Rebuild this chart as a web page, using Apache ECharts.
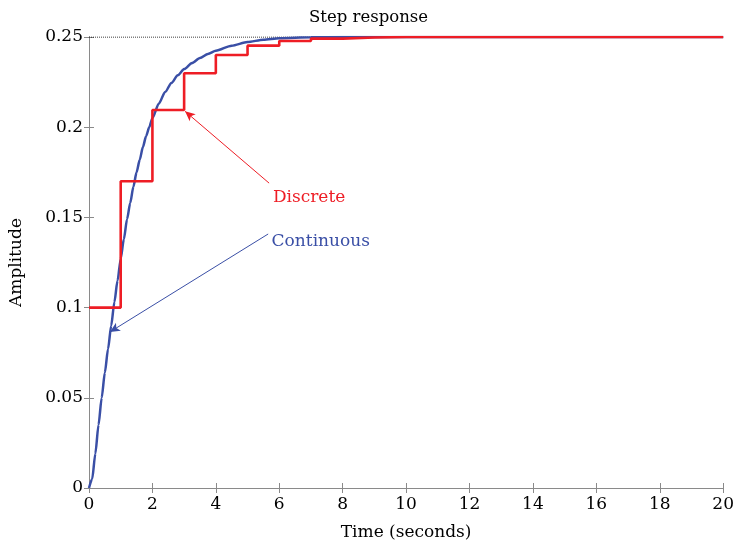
<!DOCTYPE html>
<html>
<head>
<meta charset="utf-8">
<script src="https://cdn.jsdelivr.net/npm/echarts@6/dist/echarts.min.js"></script>
<style>
html,body{margin:0;padding:0;background:#fff;overflow:hidden;}
#chart{width:737px;height:547px;}
</style>
</head>
<body>
<div id="chart"></div>
<script>
// ---- data ----
var xTicks = [0, 2, 4, 6, 8, 10, 12, 14, 16, 18, 20];
var yTicks = [0, 0.05, 0.1, 0.15, 0.2, 0.25];
var contT = [0, 0.1, 0.2, 0.3, 0.4, 0.5, 0.6, 0.7, 0.8, 0.9, 1.0, 1.1, 1.2, 1.3, 1.4, 1.5, 1.6, 1.7, 1.8, 1.9, 2.0, 2.2, 2.4, 2.6, 2.8, 3.0, 3.25, 3.5, 3.75, 4.0, 4.5, 5.0, 5.5, 6.0, 7.0, 8.0, 10, 20];
var contY = [0, 0.005, 0.019, 0.035, 0.050, 0.064, 0.077, 0.090, 0.103, 0.115, 0.127, 0.138, 0.149, 0.158, 0.167, 0.175, 0.182, 0.189, 0.195, 0.200, 0.205, 0.213, 0.2195, 0.2245, 0.2288, 0.2322, 0.2356, 0.2384, 0.2406, 0.2424, 0.2452, 0.2472, 0.2485, 0.2493, 0.2498, 0.25, 0.25, 0.25];
var discT = [0, 1, 2, 3, 4, 5, 6, 7, 8, 9, 10, 11, 12, 13, 14, 15, 16, 17, 18, 19, 20];
var discY = [0.1, 0.17, 0.2095, 0.2299, 0.240, 0.2452, 0.2478, 0.2491, 0.2497, 0.25, 0.25, 0.25, 0.25, 0.25, 0.25, 0.25, 0.25, 0.25, 0.25, 0.25, 0.25];
var finalValue = 0.25;
var discArrow = {from: [5.68, 0.169], to: [3.03, 0.2088], text: 'Discrete', at: [5.72, 0.1612]};
var contArrow = {from: [5.65, 0.1408], to: [0.66, 0.0865], text: 'Continuous', at: [5.68, 0.1368]};

var FONT = 'DejaVu Serif';
var RED = '#ee1d25';
var BLUE = '#3a4fa6';
var AX = '#8a8a8a';
var TXT = '#000';

function pairs(xs, ys) { return xs.map(function (x, i) { return [x, ys[i]]; }); }

var chart = echarts.init(document.getElementById('chart'));
var axisCommon = {
  axisLine: {show: true, lineStyle: {color: AX, width: 1}},
  axisTick: {show: true, inside: true, length: 5, lineStyle: {color: AX}},
  splitLine: {show: false}
};
chart.setOption({
  animation: false,
  backgroundColor: '#fff',
  title: {
    text: 'Step response', left: 'center', top: 4,
    textStyle: {fontFamily: FONT, fontSize: 16.5, fontWeight: 'normal', color: TXT}
  },
  grid: {left: 86, right: 8.5, top: 37, bottom: 59},
  xAxis: [
    Object.assign({
      type: 'value', min: 0, max: 20, interval: 2, position: 'bottom',
      name: 'Time (seconds)', nameLocation: 'middle', nameGap: 36,
      nameTextStyle: {fontFamily: FONT, fontSize: 17, color: TXT},
      axisLabel: {fontFamily: FONT, fontSize: 17, color: TXT, margin: 8}
    }, axisCommon),
    Object.assign({
      type: 'value', min: 0, max: 20, interval: 2, position: 'top',
      axisLabel: {show: false}
    }, axisCommon)
  ],
  yAxis: [
    Object.assign({
      type: 'value', min: 0, max: 0.25, interval: 0.05, position: 'left',
      name: 'Amplitude', nameLocation: 'middle', nameGap: 64, nameRotate: 90,
      nameTextStyle: {fontFamily: FONT, fontSize: 17, color: TXT},
      axisLabel: {fontFamily: FONT, fontSize: 17, color: TXT, margin: 6,
        formatter: function (v) { return String(+v.toFixed(2)); }}
    }, axisCommon),
    Object.assign({
      type: 'value', min: 0, max: 0.25, interval: 0.05, position: 'right',
      axisLabel: {show: false}
    }, axisCommon)
  ],
  series: [
    {
      type: 'line', name: 'ref', data: [[0, finalValue], [20, finalValue]],
      symbol: 'none', silent: true, z: 1,
      lineStyle: {color: '#000', width: 1, type: [1, 1]}
    },
    {
      type: 'line', name: 'Continuous', data: pairs(contT, contY),
      smooth: 0.25, smoothMonotone: 'x', symbol: 'none', z: 3,
      lineStyle: {color: BLUE, width: 2.5},
      markLine: {
        silent: true, symbol: ['none', 'arrow'], symbolSize: [7, 10],
        lineStyle: {color: BLUE, width: 1, type: 'solid'}, label: {show: false},
        data: [[{coord: contArrow.from}, {coord: contArrow.to}]]
      },
      markPoint: {
        silent: true, symbol: 'circle', symbolSize: 1, itemStyle: {color: 'rgba(0,0,0,0)'},
        label: {show: true, position: 'right', distance: 2, formatter: contArrow.text,
          fontFamily: FONT, fontSize: 17, color: BLUE},
        data: [{coord: contArrow.at}]
      }
    },
    {
      type: 'line', name: 'Discrete', data: pairs(discT, discY),
      step: 'end', symbol: 'none', z: 4,
      lineStyle: {color: RED, width: 2.6},
      markLine: {
        silent: true, symbol: ['none', 'arrow'], symbolSize: [7, 10],
        lineStyle: {color: RED, width: 1, type: 'solid'}, label: {show: false},
        data: [[{coord: discArrow.from}, {coord: discArrow.to}]]
      },
      markPoint: {
        silent: true, symbol: 'circle', symbolSize: 1, itemStyle: {color: 'rgba(0,0,0,0)'},
        label: {show: true, position: 'right', distance: 2, formatter: discArrow.text,
          fontFamily: FONT, fontSize: 17, color: RED},
        data: [{coord: discArrow.at}]
      }
    }
  ]
});
</script>
</body>
</html>
